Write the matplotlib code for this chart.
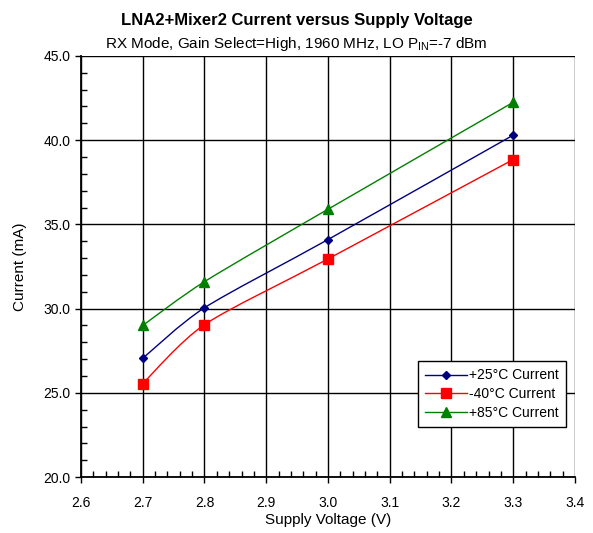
import numpy as np
import matplotlib.pyplot as plt
from matplotlib.path import Path
from matplotlib.patches import PathPatch
from matplotlib.ticker import MultipleLocator
from matplotlib.lines import Line2D

plt.rcParams['font.family'] = ['Liberation Sans', 'DejaVu Sans']

voltage = [2.7, 2.8, 3.0, 3.3]
cur_p25 = [27.05, 30.05, 34.1, 40.3]
cur_m40 = [25.55, 29.05, 32.95, 38.85]
cur_p85 = [29.0, 31.6, 35.9, 42.25]

series = [
    ('+25°C Current', cur_p25, '#000080', 'D', 4.5),
    ('-40°C Current', cur_m40, '#ff0000', 's', 7),
    ('+85°C Current', cur_p85, '#008000', '^', 7),
]


def smooth_path(x, y, tension=0.13):
    # Catmull-Rom style cubic Bezier through the points
    pts = np.column_stack([x, y])
    verts = [pts[0]]
    codes = [Path.MOVETO]
    n = len(pts)
    for i in range(n - 1):
        p0 = pts[i - 1] if i > 0 else pts[i]
        p1, p2 = pts[i], pts[i + 1]
        p3 = pts[i + 2] if i + 2 < n else pts[i + 1]
        c1 = p1 + (p2 - p0) * tension
        c2 = p2 - (p3 - p1) * tension
        verts += [c1, c2, p2]
        codes += [Path.CURVE4] * 3
    return Path(verts, codes)


fig = plt.figure(figsize=(5.93, 5.33), dpi=100)
ax = fig.add_axes([0.1366, 0.105, 0.833, 0.79])

ax.set_xlim(2.6, 3.4)
ax.set_ylim(20, 45)
ax.xaxis.set_major_locator(MultipleLocator(0.1))
ax.xaxis.set_minor_locator(MultipleLocator(0.02))
ax.yaxis.set_major_locator(MultipleLocator(5))
ax.yaxis.set_minor_locator(MultipleLocator(1))
ax.xaxis.set_major_formatter(lambda v, p: f'{v:.1f}')
ax.yaxis.set_major_formatter(lambda v, p: f'{v:.1f}')
ax.tick_params(which='major', direction='out', length=4, width=1, labelsize=10)
ax.tick_params(which='minor', direction='in', length=4, width=1)
ax.tick_params(axis='x', pad=10)
ax.grid(True, which='major', color='black', linewidth=1)
for side in ['top', 'right']:
    ax.spines[side].set_visible(False)
for side in ['left', 'bottom']:
    ax.spines[side].set_linewidth(1.3)

handles = []
for label, vals, color, marker, ms in series:
    ax.add_patch(PathPatch(smooth_path(voltage, vals), facecolor='none',
                           edgecolor=color, linewidth=1, zorder=3))
    ax.plot(voltage, vals, linestyle='none', marker=marker, markersize=ms,
            color=color, zorder=4)
    handles.append(Line2D([], [], color=color, linewidth=1, marker=marker,
                          markersize=ms, label=label))

leg = ax.legend(handles=handles, loc='lower right', bbox_to_anchor=(0.982, 0.12),
                fontsize=10, frameon=True, fancybox=False, edgecolor='black',
                framealpha=1, handlelength=3.0, borderpad=0.5, labelspacing=0.33,
                handletextpad=0.2, borderaxespad=0)
leg.get_frame().set_linewidth(1)

ax.set_xlabel('Supply Voltage (V)', fontsize=11, labelpad=2)
ax.set_ylabel('Current (mA)', fontsize=11, labelpad=12)
fig.text(0.5, 0.954, 'LNA2+Mixer2 Current versus Supply Voltage', ha='center',
         fontsize=12, fontweight='bold')
fig.text(0.5, 0.9105, 'RX Mode, Gain Select=High, 1960 MHz, LO P$_{\\mathregular{IN}}$=-7 dBm',
         ha='center', fontsize=11)

fig.savefig('out.png', dpi=100)
